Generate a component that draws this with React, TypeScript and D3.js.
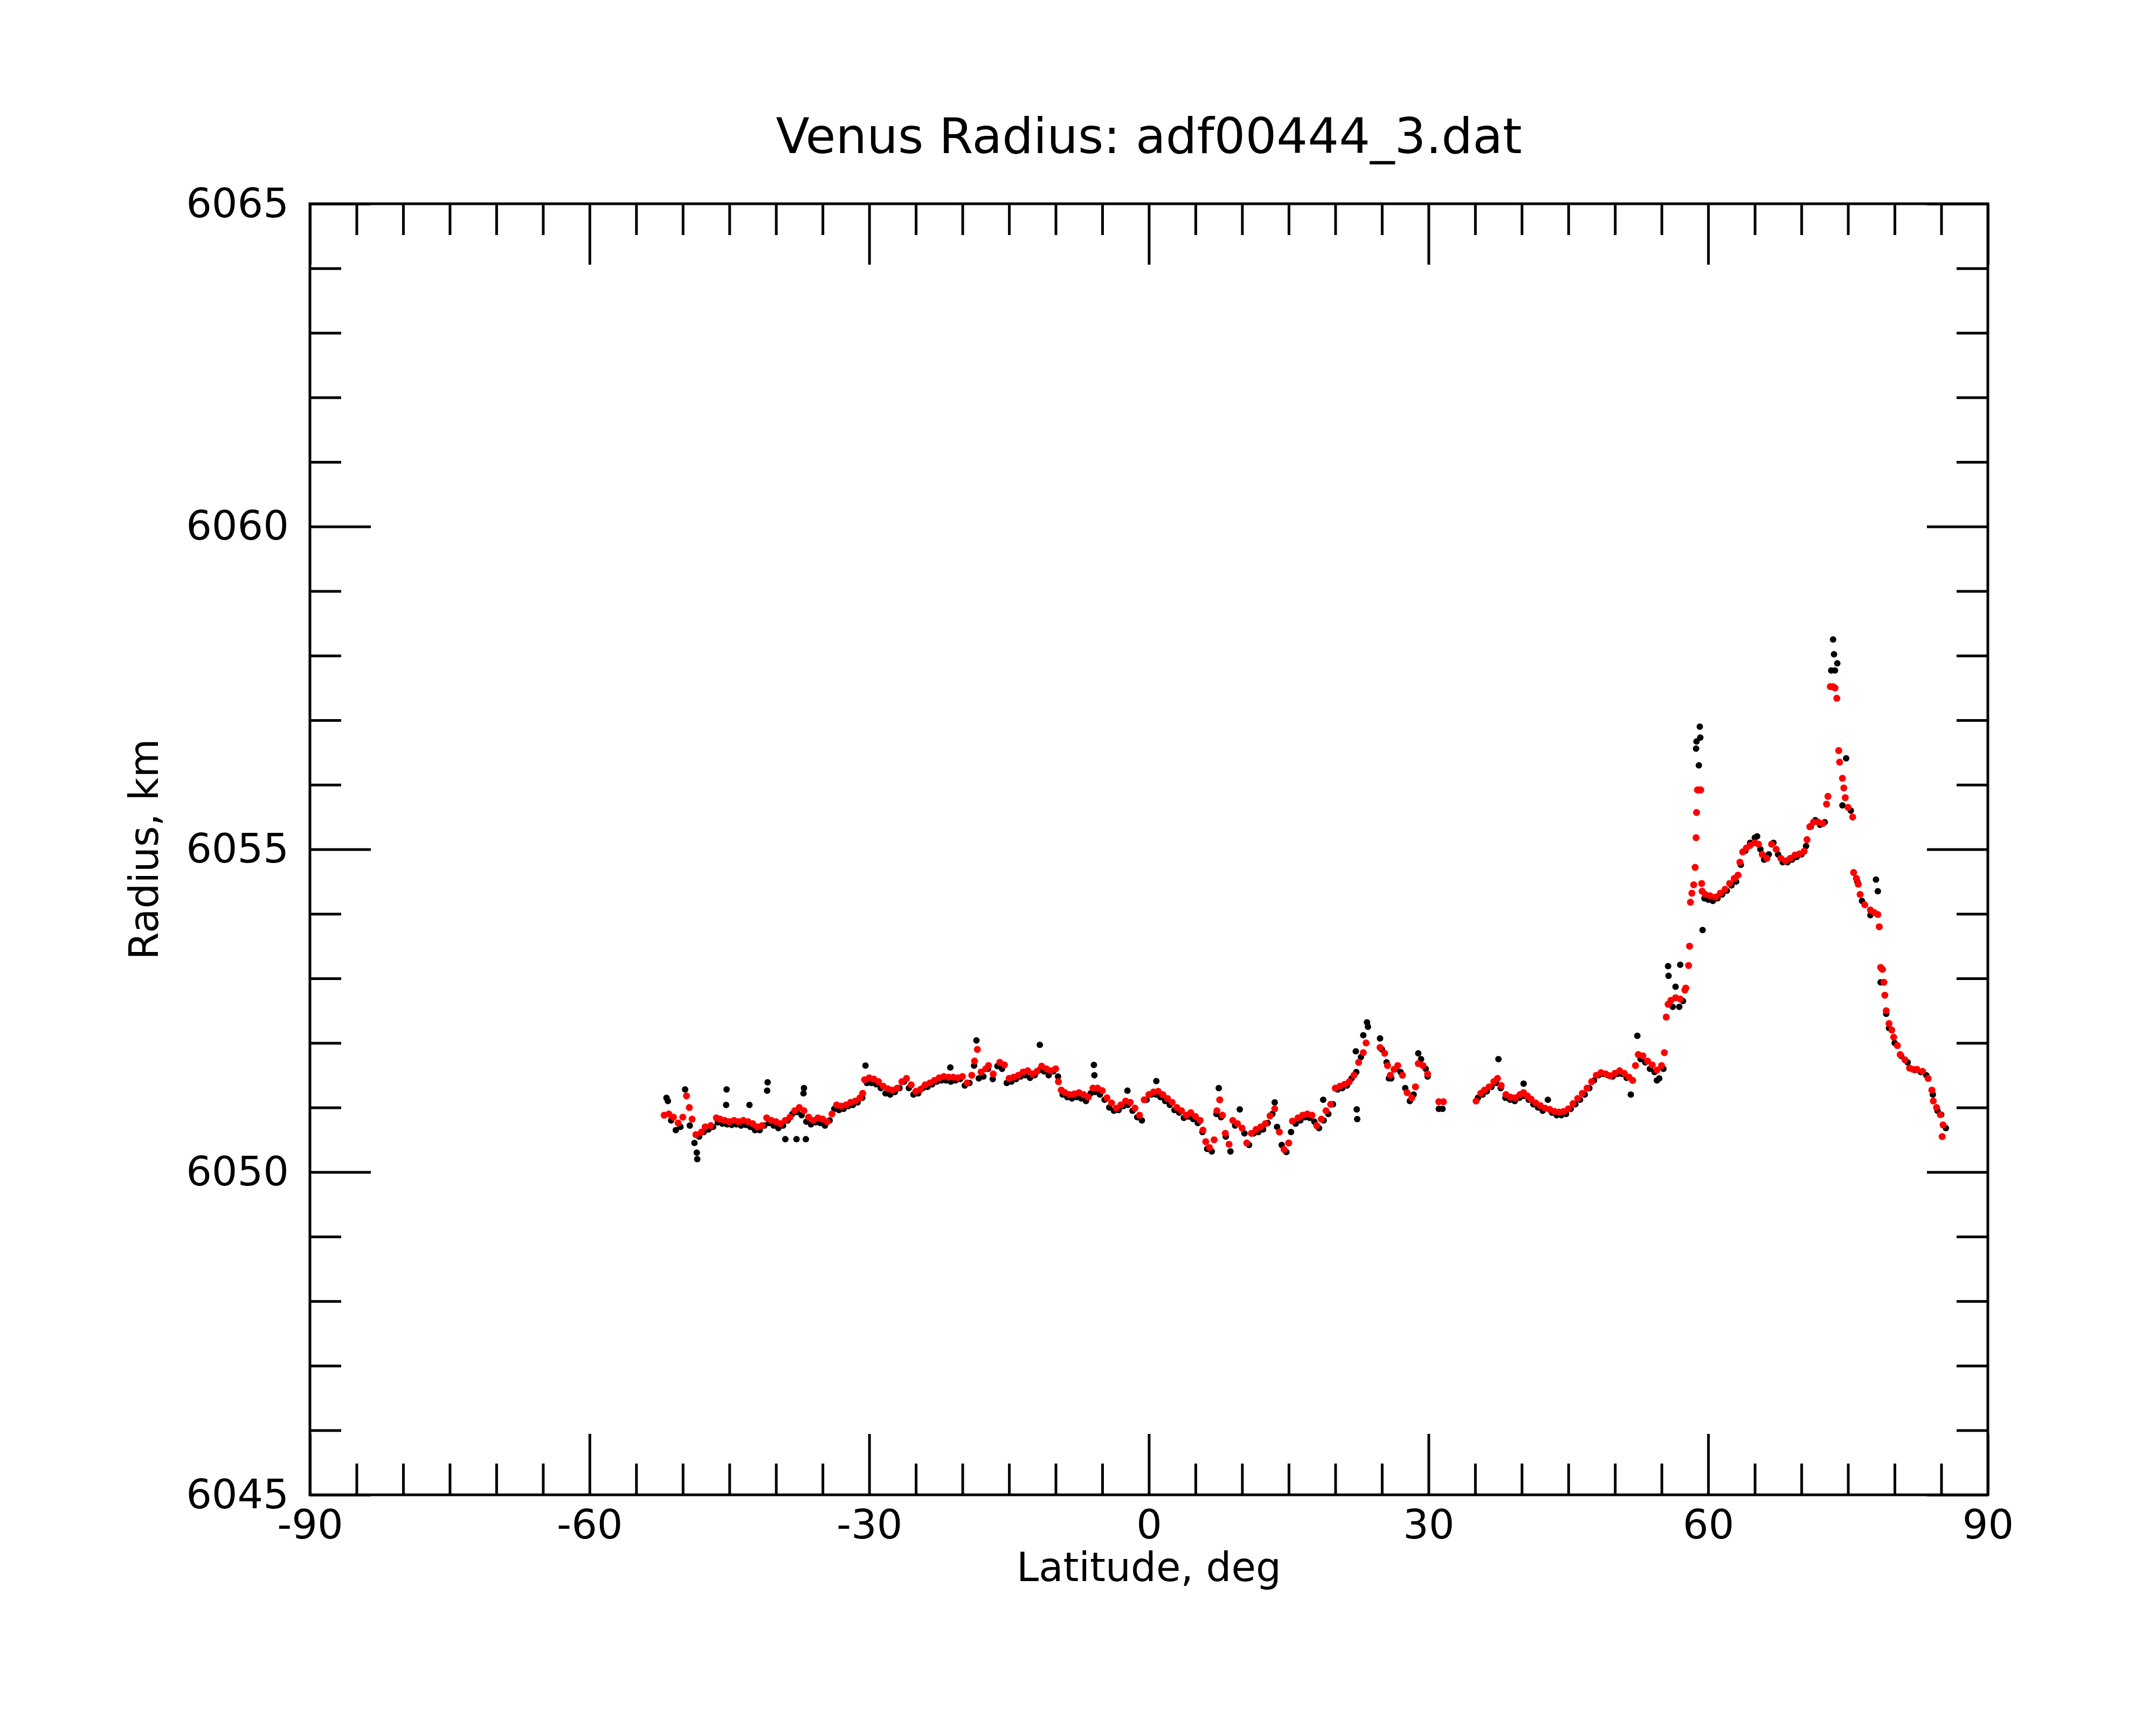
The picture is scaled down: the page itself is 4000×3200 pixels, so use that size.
import React, { useEffect, useRef } from 'react';
import * as d3 from 'd3';

// latitude (deg), radius (km)
const redPoints: [number, number][] = [
  [-52.0, 6050.88], [-51.5, 6050.9], [-51.0, 6050.85], [-50.5, 6050.76], [-50.0, 6050.85],
  [-49.6, 6051.18], [-49.3, 6051.0], [-49.0, 6050.82], [-48.6, 6050.58], [-48.0, 6050.62],
  [-47.6, 6050.7], [-47.0, 6050.72], [-46.4, 6050.84], [-46.0, 6050.82], [-45.5, 6050.8],
  [-45.0, 6050.78], [-44.5, 6050.8], [-44.0, 6050.78], [-43.5, 6050.8], [-43.0, 6050.78],
  [-42.5, 6050.75], [-42.0, 6050.7], [-41.5, 6050.72], [-41.0, 6050.84], [-40.5, 6050.8],
  [-40.0, 6050.78], [-39.5, 6050.75], [-39.0, 6050.8], [-38.5, 6050.85], [-38.0, 6050.95],
  [-37.5, 6051.0], [-37.0, 6050.95], [-36.5, 6050.85], [-36.0, 6050.8], [-35.5, 6050.84],
  [-35.0, 6050.82], [-34.5, 6050.78], [-34.0, 6050.9], [-33.5, 6051.04], [-33.0, 6051.02],
  [-32.5, 6051.04], [-32.0, 6051.08], [-31.5, 6051.1], [-31.0, 6051.15], [-30.7, 6051.22],
  [-30.5, 6051.43], [-30.0, 6051.46], [-29.5, 6051.44], [-29.0, 6051.4], [-28.5, 6051.33],
  [-28.0, 6051.29], [-27.5, 6051.27], [-27.0, 6051.3], [-26.5, 6051.4], [-26.0, 6051.45],
  [-25.5, 6051.35], [-25.0, 6051.25], [-24.5, 6051.28], [-24.0, 6051.35], [-23.5, 6051.38],
  [-23.0, 6051.42], [-22.5, 6051.46], [-22.0, 6051.48], [-21.5, 6051.47], [-21.0, 6051.47],
  [-20.5, 6051.46], [-20.0, 6051.48], [-19.5, 6051.38], [-19.0, 6051.5], [-18.7, 6051.72],
  [-18.4, 6051.9], [-18.0, 6051.55], [-17.5, 6051.6], [-17.2, 6051.65], [-16.7, 6051.52],
  [-16.0, 6051.7], [-15.5, 6051.66], [-15.0, 6051.45], [-14.5, 6051.47], [-14.0, 6051.5],
  [-13.5, 6051.55], [-13.0, 6051.57], [-12.5, 6051.52], [-12.0, 6051.56], [-11.5, 6051.64],
  [-11.0, 6051.6], [-10.5, 6051.57], [-10.0, 6051.6], [-9.7, 6051.4], [-9.4, 6051.27],
  [-9.0, 6051.23], [-8.5, 6051.2], [-8.0, 6051.21], [-7.5, 6051.23], [-7.0, 6051.2],
  [-6.5, 6051.16], [-6.0, 6051.3], [-5.5, 6051.3], [-5.0, 6051.26], [-4.5, 6051.15],
  [-4.0, 6051.07], [-3.5, 6050.99], [-3.0, 6051.04], [-2.5, 6051.1], [-2.0, 6051.08],
  [-1.5, 6050.99], [-1.0, 6050.88], [-0.5, 6051.12], [0.0, 6051.2], [0.5, 6051.24],
  [1.0, 6051.25], [1.5, 6051.2], [2.0, 6051.14], [2.5, 6051.08], [3.0, 6051.0],
  [3.5, 6050.95], [4.0, 6050.88], [4.5, 6050.92], [5.0, 6050.86], [5.5, 6050.8],
  [5.8, 6050.65], [6.1, 6050.47], [6.5, 6050.38], [7.0, 6050.5], [7.3, 6050.95],
  [7.6, 6051.12], [7.9, 6050.88], [8.2, 6050.6], [8.6, 6050.43], [9.0, 6050.8],
  [9.5, 6050.75], [10.0, 6050.68], [10.5, 6050.45], [11.0, 6050.6], [11.5, 6050.66],
  [12.0, 6050.7], [12.5, 6050.75], [13.0, 6050.87], [13.5, 6050.98], [14.0, 6050.62],
  [14.5, 6050.35], [15.0, 6050.45], [15.4, 6050.79], [16.0, 6050.84], [16.5, 6050.88],
  [17.0, 6050.9], [17.5, 6050.88], [18.0, 6050.72], [18.5, 6050.82], [19.0, 6050.95],
  [19.5, 6051.05], [20.0, 6051.3], [20.5, 6051.33], [21.0, 6051.36], [21.5, 6051.4],
  [22.0, 6051.5], [22.5, 6051.7], [23.0, 6051.85], [23.3, 6052.0], [24.8, 6051.93],
  [25.3, 6051.84], [25.6, 6051.65], [25.9, 6051.5], [26.3, 6051.59], [26.7, 6051.65],
  [27.2, 6051.5], [27.7, 6051.23], [28.2, 6051.15], [28.6, 6051.32], [28.9, 6051.68],
  [29.4, 6051.65], [29.9, 6051.52], [31.1, 6051.09], [31.6, 6051.09],
  [35.1, 6051.1], [35.6, 6051.22], [36.0, 6051.27], [36.5, 6051.32], [37.0, 6051.4],
  [37.4, 6051.45], [37.8, 6051.34], [38.3, 6051.2], [38.8, 6051.16], [39.3, 6051.15],
  [39.8, 6051.2], [40.2, 6051.23], [40.6, 6051.18], [41.0, 6051.13], [41.5, 6051.07],
  [42.0, 6051.03], [42.5, 6050.99], [43.0, 6050.97], [43.5, 6050.94], [44.0, 6050.93],
  [44.5, 6050.94], [45.0, 6050.98], [45.5, 6051.06], [46.0, 6051.14], [46.5, 6051.22],
  [47.0, 6051.3], [47.5, 6051.4], [48.0, 6051.5], [48.5, 6051.54], [49.0, 6051.52],
  [49.5, 6051.49], [50.0, 6051.53], [50.5, 6051.57], [51.0, 6051.53], [51.5, 6051.47],
  [51.9, 6051.42], [52.2, 6051.65], [52.5, 6051.82], [53.0, 6051.8], [53.5, 6051.72],
  [54.0, 6051.66], [54.5, 6051.58], [55.0, 6051.65], [55.3, 6051.85], [55.5, 6052.4],
  [55.7, 6052.6], [56.0, 6052.66], [56.5, 6052.7], [57.0, 6052.68], [57.5, 6052.82],
  [57.6, 6052.85], [57.9, 6053.2], [58.0, 6053.5], [58.1, 6054.18], [58.25, 6054.32],
  [58.45, 6054.45], [58.6, 6054.72], [58.7, 6055.18], [58.75, 6055.57], [58.85, 6055.92],
  [59.0, 6055.92], [59.2, 6055.92], [59.3, 6054.47], [59.35, 6054.35], [59.7, 6054.3],
  [60.2, 6054.28], [60.8, 6054.26], [61.3, 6054.32], [61.8, 6054.38], [62.3, 6054.47],
  [62.8, 6054.55], [63.2, 6054.6], [63.4, 6054.8], [63.7, 6054.96], [64.1, 6055.02],
  [64.5, 6055.06], [65.0, 6055.1], [65.4, 6055.08], [65.8, 6054.92], [66.3, 6054.86],
  [66.8, 6055.08], [67.3, 6055.0], [67.8, 6054.86], [68.3, 6054.82], [68.8, 6054.86],
  [69.3, 6054.91], [69.8, 6054.93], [70.3, 6054.97], [70.6, 6055.15], [70.9, 6055.35],
  [71.3, 6055.42], [71.8, 6055.42], [72.3, 6055.4], [72.7, 6055.7], [72.85, 6055.82],
  [73.1, 6057.52], [73.4, 6057.52], [73.6, 6057.5], [73.8, 6057.34], [74.0, 6056.53],
  [74.1, 6056.35], [74.4, 6056.1], [74.55, 6055.95], [74.7, 6055.8], [75.0, 6055.65],
  [75.5, 6055.5], [75.6, 6054.64], [75.9, 6054.55], [76.1, 6054.46], [76.3, 6054.3],
  [76.8, 6054.14], [77.4, 6054.06], [77.8, 6054.02], [78.2, 6053.99], [78.35, 6053.8],
  [78.5, 6053.17], [78.7, 6053.14], [78.85, 6052.94], [78.95, 6052.74], [79.1, 6052.5],
  [79.4, 6052.3], [79.7, 6052.2], [79.9, 6052.09], [80.3, 6051.96], [80.6, 6051.82],
  [81.1, 6051.74], [81.6, 6051.61], [82.0, 6051.59], [82.4, 6051.59], [83.0, 6051.56],
  [83.6, 6051.45], [84.0, 6051.27], [84.15, 6051.1], [84.5, 6051.0], [84.9, 6050.89],
  [85.2, 6050.73], [85.1, 6050.55],
];

const blackPoints: [number, number][] = [
  [-51.75, 6051.15], [-51.6, 6051.1], [-51.25, 6050.8], [-50.75, 6050.65], [-50.25, 6050.7],
  [-49.75, 6051.28], [-49.25, 6050.72], [-48.75, 6050.45], [-48.5, 6050.3], [-48.45, 6050.2],
  [-48.25, 6050.55], [-47.75, 6050.62], [-47.25, 6050.66], [-46.75, 6050.7], [-46.25, 6050.77],
  [-45.75, 6050.75], [-45.3, 6051.28], [-45.25, 6050.74], [-45.35, 6051.04], [-44.75, 6050.73],
  [-44.25, 6050.74], [-43.75, 6050.72], [-43.25, 6050.73], [-42.85, 6051.04], [-42.75, 6050.7],
  [-42.25, 6050.65], [-41.75, 6050.65], [-41.25, 6050.72], [-40.9, 6051.39], [-40.95, 6051.26],
  [-40.75, 6050.76], [-40.25, 6050.72], [-39.75, 6050.68], [-39.25, 6050.72], [-39.0, 6050.51],
  [-38.75, 6050.8], [-38.25, 6050.9], [-37.8, 6050.51], [-37.75, 6050.93], [-37.25, 6050.88],
  [-37.0, 6051.3], [-37.05, 6051.22], [-36.8, 6050.51], [-36.75, 6050.78], [-36.25, 6050.74],
  [-35.75, 6050.77], [-35.25, 6050.76], [-34.75, 6050.72], [-34.25, 6050.8], [-33.75, 6050.98],
  [-33.25, 6050.96], [-32.75, 6050.98], [-32.25, 6051.02], [-31.75, 6051.04], [-31.25, 6051.08],
  [-30.75, 6051.15], [-30.4, 6051.65], [-30.25, 6051.38], [-29.75, 6051.38], [-29.25, 6051.36],
  [-28.75, 6051.3], [-28.25, 6051.22], [-27.75, 6051.2], [-27.25, 6051.24], [-26.75, 6051.3],
  [-26.25, 6051.4], [-25.75, 6051.3], [-25.25, 6051.2], [-24.75, 6051.22], [-24.25, 6051.3],
  [-23.75, 6051.32], [-23.25, 6051.36], [-22.75, 6051.4], [-22.25, 6051.42], [-21.75, 6051.42],
  [-21.3, 6051.62], [-21.25, 6051.4], [-20.75, 6051.42], [-20.25, 6051.44], [-19.75, 6051.34],
  [-19.25, 6051.38], [-18.75, 6051.65], [-18.5, 6052.04], [-18.25, 6051.45], [-17.75, 6051.48],
  [-17.25, 6051.6], [-16.75, 6051.44], [-16.25, 6051.64], [-15.75, 6051.6], [-15.25, 6051.38],
  [-14.75, 6051.4], [-14.25, 6051.44], [-13.75, 6051.48], [-13.25, 6051.5], [-12.75, 6051.46],
  [-12.25, 6051.5], [-11.75, 6051.58], [-11.7, 6051.97], [-11.25, 6051.56], [-10.75, 6051.5],
  [-10.25, 6051.56], [-9.75, 6051.48], [-9.25, 6051.2], [-8.75, 6051.16], [-8.25, 6051.14],
  [-7.75, 6051.16], [-7.25, 6051.14], [-6.75, 6051.1], [-6.25, 6051.22], [-5.9, 6051.66],
  [-5.85, 6051.5], [-5.75, 6051.24], [-5.25, 6051.2], [-4.75, 6051.12], [-4.25, 6051.0],
  [-3.75, 6050.95], [-3.25, 6050.96], [-2.75, 6051.02], [-2.3, 6051.26], [-2.25, 6051.04],
  [-1.75, 6050.95], [-1.25, 6050.85], [-0.75, 6050.8], [-0.25, 6051.12], [0.25, 6051.2],
  [0.75, 6051.2], [0.8, 6051.41], [1.25, 6051.16], [1.75, 6051.1], [2.25, 6051.04],
  [2.75, 6050.96], [3.25, 6050.92], [3.75, 6050.84], [4.25, 6050.86], [4.75, 6050.82],
  [5.25, 6050.76], [5.75, 6050.62], [6.25, 6050.36], [6.75, 6050.32], [7.25, 6050.9],
  [7.5, 6051.3], [7.75, 6050.85], [8.25, 6050.55], [8.75, 6050.32], [9.25, 6050.72],
  [9.75, 6050.97], [10.25, 6050.6], [10.75, 6050.42], [11.25, 6050.6], [11.75, 6050.62],
  [12.25, 6050.66], [12.75, 6050.76], [13.25, 6050.9], [13.5, 6051.08], [13.75, 6050.7],
  [14.25, 6050.42], [14.75, 6050.31], [15.25, 6050.62], [15.75, 6050.75], [16.25, 6050.8],
  [16.75, 6050.85], [17.25, 6050.84], [17.75, 6050.78], [18.25, 6050.68], [18.7, 6051.12],
  [18.75, 6050.8], [19.25, 6050.9], [19.75, 6051.05], [20.25, 6051.28], [20.75, 6051.3],
  [21.25, 6051.34], [21.75, 6051.45], [22.2, 6051.87], [22.25, 6051.55], [22.3, 6050.97],
  [22.35, 6050.82], [22.75, 6051.78], [23.0, 6052.12], [23.4, 6052.32], [23.5, 6052.25],
  [24.8, 6052.07], [25.0, 6051.9], [25.5, 6051.7], [25.75, 6051.45], [26.0, 6051.45],
  [26.5, 6051.6], [27.0, 6051.55], [27.5, 6051.3], [28.0, 6051.1], [28.4, 6051.2],
  [28.9, 6051.84], [29.2, 6051.75], [29.7, 6051.6], [29.9, 6051.48], [31.1, 6050.98],
  [31.5, 6050.98], [35.3, 6051.15], [35.8, 6051.2], [36.25, 6051.25], [36.75, 6051.32],
  [37.25, 6051.38], [37.5, 6051.75], [37.75, 6051.3], [38.25, 6051.15], [38.75, 6051.12],
  [39.25, 6051.1], [39.75, 6051.15], [40.2, 6051.37], [40.25, 6051.18], [40.75, 6051.12],
  [41.25, 6051.05], [41.75, 6051.0], [42.25, 6050.95], [42.8, 6051.12], [43.25, 6050.92],
  [43.75, 6050.88], [44.25, 6050.88], [44.75, 6050.9], [45.25, 6050.98], [45.75, 6051.05],
  [46.25, 6051.12], [46.75, 6051.2], [47.25, 6051.3], [47.75, 6051.42], [48.25, 6051.5],
  [48.75, 6051.52], [49.25, 6051.5], [49.75, 6051.48], [50.25, 6051.52], [50.75, 6051.52],
  [51.25, 6051.46], [51.7, 6051.2], [52.4, 6052.11], [52.75, 6051.75], [53.25, 6051.7],
  [53.75, 6051.6], [54.25, 6051.55], [54.5, 6051.42], [54.75, 6051.45], [55.2, 6051.6],
  [55.7, 6053.19], [55.75, 6053.04], [56.2, 6052.56], [56.5, 6052.87], [56.9, 6052.56],
  [57.0, 6053.21], [57.3, 6052.65], [58.7, 6056.56], [58.75, 6056.67], [59.0, 6056.3],
  [59.1, 6056.9], [59.15, 6056.73], [59.4, 6053.75], [59.6, 6054.24], [60.0, 6054.22],
  [60.5, 6054.2], [61.0, 6054.24], [61.5, 6054.3], [62.0, 6054.36], [62.5, 6054.44],
  [63.0, 6054.5], [63.5, 6054.76], [64.0, 6054.98], [64.5, 6055.1], [65.0, 6055.18],
  [65.25, 6055.2], [65.6, 6055.0], [66.0, 6054.84], [66.5, 6054.92], [67.0, 6055.1],
  [67.5, 6054.92], [68.0, 6054.8], [68.5, 6054.8], [69.0, 6054.84], [69.5, 6054.88],
  [70.0, 6054.92], [70.5, 6055.05], [71.0, 6055.35], [71.5, 6055.45], [72.0, 6055.38],
  [72.5, 6055.42], [73.2, 6057.77], [73.4, 6058.25], [73.5, 6058.02], [73.6, 6057.77],
  [73.85, 6057.88], [74.4, 6055.68], [74.8, 6056.41], [75.3, 6055.6], [76.0, 6054.5],
  [76.5, 6054.2], [77.4, 6053.98], [78.0, 6054.53], [78.2, 6054.35], [78.5, 6052.94],
  [78.6, 6053.15], [79.1, 6052.45], [79.4, 6052.23], [80.0, 6052.0], [80.7, 6051.8],
  [81.4, 6051.7], [82.2, 6051.58], [82.8, 6051.55], [83.4, 6051.5], [84.1, 6051.2],
  [84.6, 6050.95], [85.0, 6050.89], [85.5, 6050.68],
];

const xMajorTicks = [-90, -60, -30, 0, 30, 60, 90];
const yMajorTicks = [6045, 6050, 6055, 6060, 6065];

const W = 4000;
const H = 3200;
const FONT = '"DejaVu Sans", sans-serif';

export default function App() {
  const svgRef = useRef<SVGSVGElement>(null);

  useEffect(() => {
    const svg = d3.select(svgRef.current);
    svg.selectAll('*').remove();

    const margin = { top: 378, right: W - 3688, bottom: H - 2773, left: 575 };
    const innerW = W - margin.left - margin.right;
    const innerH = H - margin.top - margin.bottom;

    const x = d3.scaleLinear().domain([-90, 90]).range([0, innerW]);
    const y = d3.scaleLinear().domain([6045, 6065]).range([innerH, 0]);

    const g = svg.append('g').attr('transform', `translate(${margin.left},${margin.top})`);

    const xMinor = d3.range(-90, 91, 5).filter(v => !xMajorTicks.includes(v));
    const yMinor = d3.range(6045, 6066, 1).filter(v => !yMajorTicks.includes(v));

    // plain hyphen minus, like the original
    const plain = (d: any) => String(d);

    const styleAxis = (sel: any) => {
      sel.select('.domain').remove();
      sel.selectAll('.tick line').attr('stroke', '#000').attr('stroke-width', 5);
      sel.selectAll('text').attr('fill', '#000').style('font-family', FONT).style('font-size', '75px');
    };

    // bottom
    g.append('g').attr('transform', `translate(0,${innerH})`)
      .call(d3.axisBottom(x).tickValues(xMajorTicks).tickSize(-113).tickPadding(28).tickFormat(plain))
      .call(styleAxis);
    g.append('g').attr('transform', `translate(0,${innerH})`)
      .call(d3.axisBottom(x).tickValues(xMinor).tickSize(-58).tickFormat(() => ''))
      .call(styleAxis);
    // top
    g.append('g')
      .call(d3.axisTop(x).tickValues(xMajorTicks).tickSize(-113).tickFormat(() => ''))
      .call(styleAxis);
    g.append('g')
      .call(d3.axisTop(x).tickValues(xMinor).tickSize(-58).tickFormat(() => ''))
      .call(styleAxis);
    // left
    g.append('g')
      .call(d3.axisLeft(y).tickValues(yMajorTicks).tickSize(-113).tickPadding(39).tickFormat(plain))
      .call(styleAxis);
    g.append('g')
      .call(d3.axisLeft(y).tickValues(yMinor).tickSize(-58).tickFormat(() => ''))
      .call(styleAxis);
    // right
    g.append('g').attr('transform', `translate(${innerW},0)`)
      .call(d3.axisRight(y).tickValues(yMajorTicks).tickSize(-113).tickFormat(() => ''))
      .call(styleAxis);
    g.append('g').attr('transform', `translate(${innerW},0)`)
      .call(d3.axisRight(y).tickValues(yMinor).tickSize(-58).tickFormat(() => ''))
      .call(styleAxis);

    g.append('rect').attr('width', innerW).attr('height', innerH)
      .attr('fill', 'none').attr('stroke', '#000').attr('stroke-width', 5);

    g.append('g').selectAll('circle').data(blackPoints).enter().append('circle')
      .attr('cx', d => x(d[0])).attr('cy', d => y(d[1])).attr('r', 6).attr('fill', '#000');
    g.append('g').selectAll('circle').data(redPoints).enter().append('circle')
      .attr('cx', d => x(d[0])).attr('cy', d => y(d[1])).attr('r', 6.5).attr('fill', '#ff0000');

    svg.append('text').attr('x', margin.left + innerW / 2).attr('y', 284)
      .attr('text-anchor', 'middle').style('font-family', FONT).style('font-size', '91px')
      .text('Venus Radius: adf00444_3.dat');

    svg.append('text').attr('x', margin.left + innerW / 2).attr('y', 2933)
      .attr('text-anchor', 'middle').style('font-family', FONT).style('font-size', '74px')
      .text('Latitude, deg');

    svg.append('text').attr('transform', `translate(293,${margin.top + innerH / 2}) rotate(-90)`)
      .attr('text-anchor', 'middle').style('font-family', FONT).style('font-size', '74px')
      .text('Radius, km');
  }, []);

  return (
    <div style={{ position: 'absolute', left: 0, top: 0, width: W, height: H, background: '#fff' }}>
      <svg ref={svgRef} width={W} height={H} style={{ display: 'block' }} />
    </div>
  );
}
